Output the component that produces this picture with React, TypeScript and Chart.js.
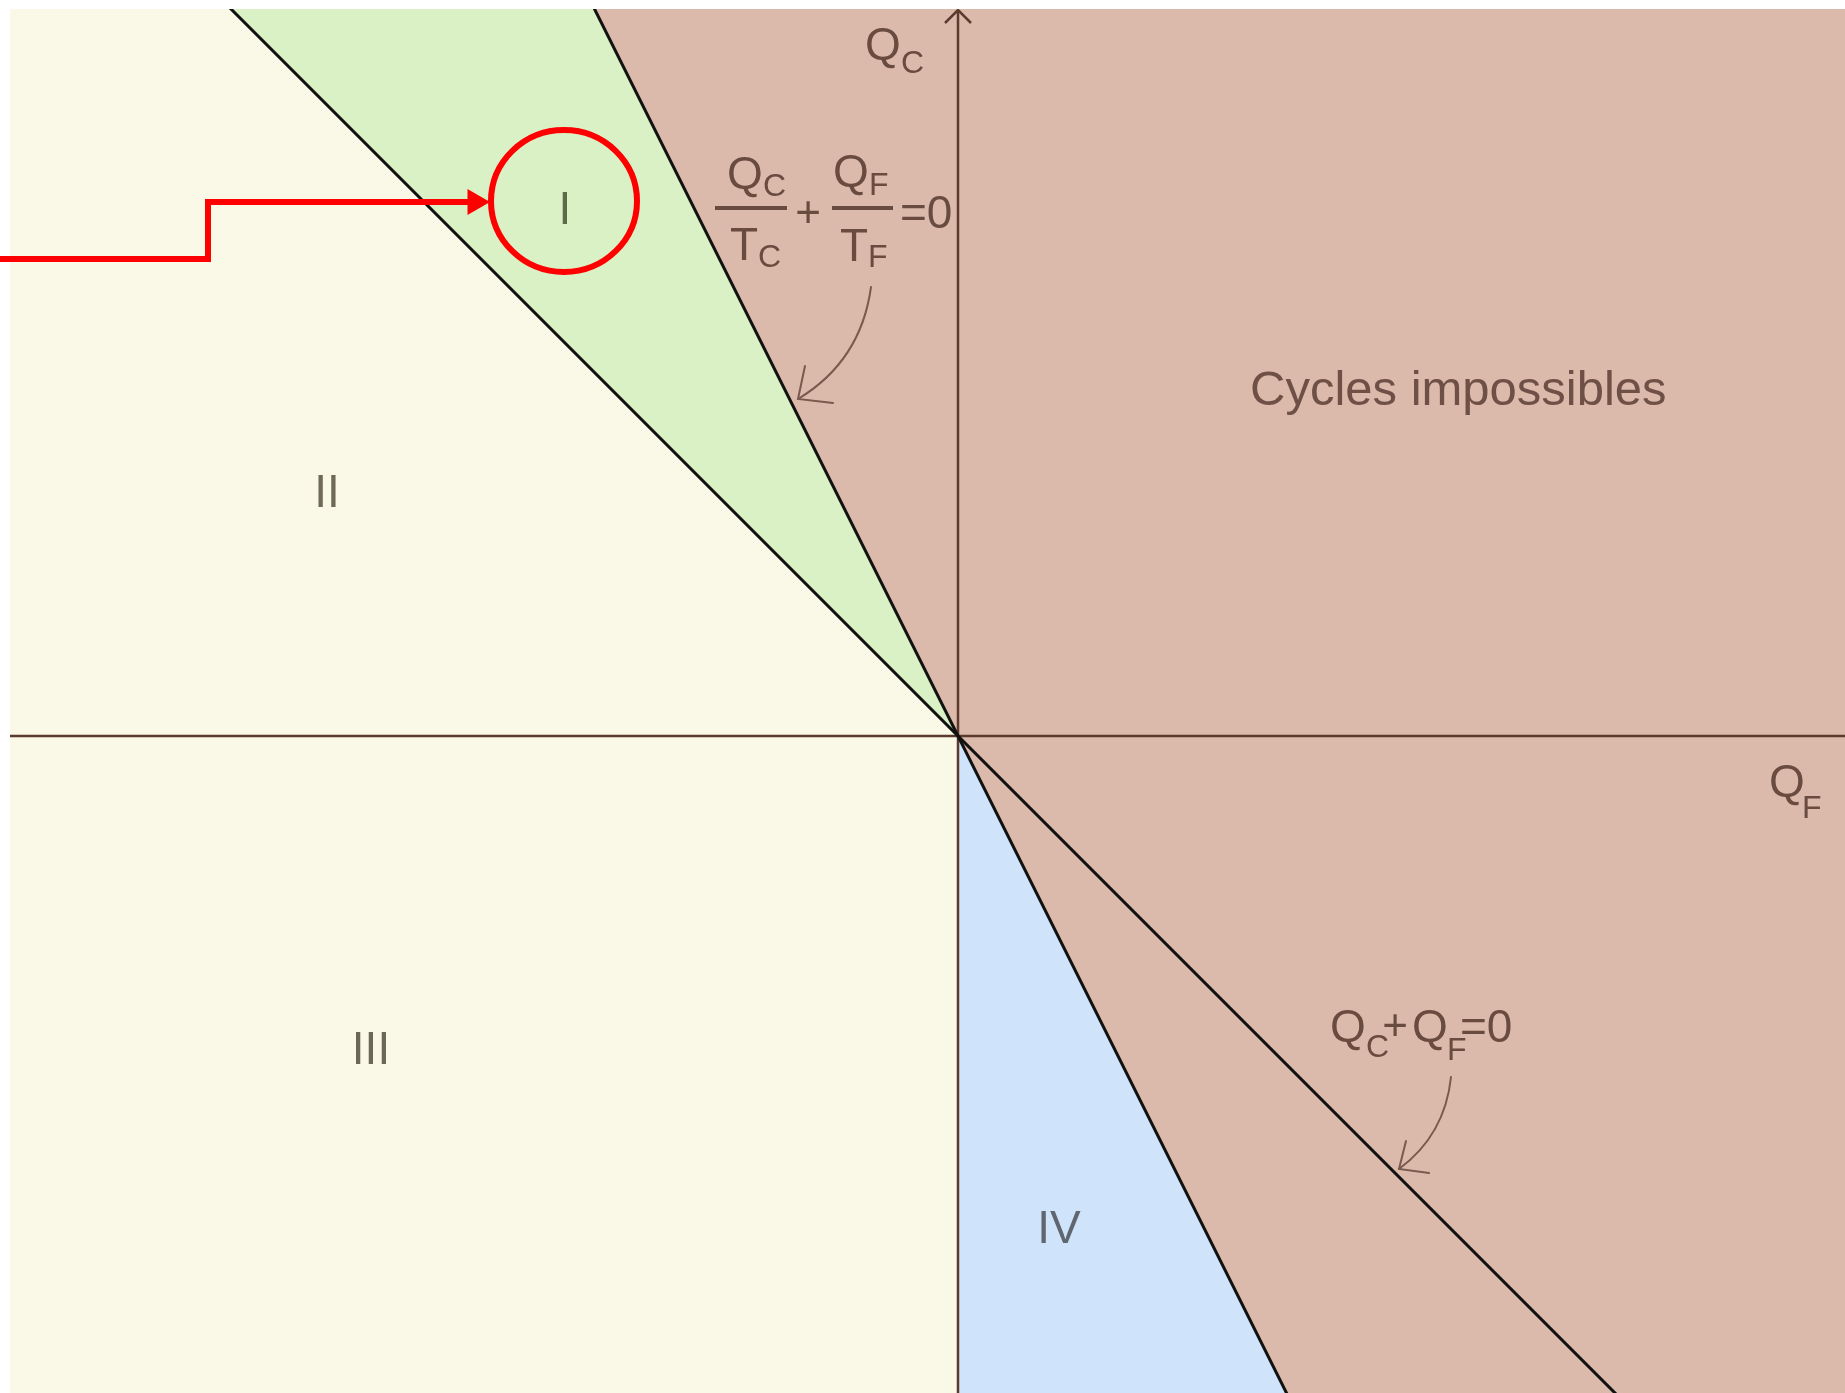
import React, { useEffect, useRef } from "react";
import { Chart, registerables } from "chart.js";

Chart.register(...registerables);

// ---- Axis ranges (Q_F horizontal, Q_C vertical) ----
const QF_RANGE = [-9.48, 8.87];
const QC_RANGE = [-6.57, 7.27];

// ---- Regions of the (Q_F, Q_C) plane (polygons, closed) ----
const REGION_II = [[0, 0], [-20, 20], [-20, 0]];
const REGION_III = [[0, 0], [-20, 0], [-20, -20], [0, -20]];
const REGION_I = [[0, 0], [-10, 20], [-20, 20]];
const REGION_IV = [[0, 0], [0, -20], [10, -20]];
const REGION_IMPOSSIBLE = [[0, 0], [-10, 20], [20, 20], [20, -20], [10, -20]];

// ---- Boundary lines ----
const LINE_CLAUSIUS = [[-10, 20], [10, -20]]; // Qc/Tc + Qf/Tf = 0 (Tc/Tf = 2)
const LINE_ENERGY = [[-20, 20], [20, -20]]; // Qc + Qf = 0

// ---- Axes ----
const AXIS_QF = [[-20, 0], [20, 0]];
const AXIS_QC = [[0, -20], [0, 7.26]];
const AXIS_QC_ARROW = [[-0.13, 7.13], [0, 7.26], [0.13, 7.13]];

// ---- Red highlight pointing to region I ----
const HIGHLIGHT_PATH = [[-9.6, 4.77], [-7.5, 4.77], [-7.5, 5.34], [-4.83, 5.34]];
const HIGHLIGHT_RING = { cx: -3.94, cy: 5.35, rx: 0.73, ry: 0.71 };

// ---- Texts ----
const FONT = '"Liberation Sans", Arial, Helvetica, sans-serif';
const LABEL_COLOR = "#6a4b40";
const TEXT_ITEMS = [
  // Q_C axis title
  { text: "Q", x: -0.93, y: 6.76, size: 46, color: LABEL_COLOR },
  { text: "C", x: -0.57, y: 6.63, size: 32, color: LABEL_COLOR },
  // Q_F axis title
  { text: "Q", x: 8.11, y: -0.61, size: 46, color: LABEL_COLOR },
  { text: "F", x: 8.44, y: -0.82, size: 32, color: LABEL_COLOR },
  // Qc/Tc + Qf/Tf = 0
  { text: "Q", x: -2.31, y: 5.47, size: 46, color: LABEL_COLOR },
  { text: "C", x: -1.95, y: 5.4, size: 32, color: LABEL_COLOR },
  { text: "Q", x: -1.25, y: 5.49, size: 46, color: LABEL_COLOR },
  { text: "F", x: -0.89, y: 5.41, size: 32, color: LABEL_COLOR },
  { text: "T", x: -2.28, y: 4.76, size: 46, color: LABEL_COLOR },
  { text: "C", x: -2.0, y: 4.69, size: 32, color: LABEL_COLOR },
  { text: "T", x: -1.18, y: 4.75, size: 46, color: LABEL_COLOR },
  { text: "F", x: -0.9, y: 4.69, size: 32, color: LABEL_COLOR },
  { text: "+", x: -1.5, y: 5.09, size: 44, color: LABEL_COLOR, align: "center" },
  { text: "=0", x: -0.58, y: 5.08, size: 46, color: LABEL_COLOR },
  // Qc + Qf = 0
  { text: "Q", x: 3.72, y: -3.06, size: 46, color: LABEL_COLOR },
  { text: "C", x: 4.08, y: -3.21, size: 32, color: LABEL_COLOR },
  { text: "+", x: 4.37, y: -3.04, size: 44, color: LABEL_COLOR, align: "center" },
  { text: "Q", x: 4.54, y: -3.06, size: 46, color: LABEL_COLOR },
  { text: "F", x: 4.89, y: -3.24, size: 32, color: LABEL_COLOR },
  { text: "=0", x: 5.02, y: -3.06, size: 46, color: LABEL_COLOR },
  // Region names
  { text: "Cycles impossibles", x: 2.92, y: 3.31, size: 49, color: "#6e5046" },
  { text: "I", x: -3.93, y: 5.12, size: 46, color: "#5d6a47", align: "center" },
  { text: "II", x: -6.31, y: 2.29, size: 46, color: "#6f6a58", align: "center" },
  { text: "III", x: -5.87, y: -3.28, size: 46, color: "#6b6858", align: "center" },
  { text: "IV", x: 1.01, y: -5.07, size: 46, color: "#5f6670", align: "center" },
];
const FRACTION_BARS = [
  { x0: -2.43, x1: -1.71, y: 5.28 },
  { x0: -1.26, x1: -0.65, y: 5.28 },
];
const CURVED_ARROWS = [
  { start: [-0.87, 4.49], ctrl: [-0.97, 3.75], tip: [-1.6, 3.37], wingA: [-1.53, 3.7], wingB: [-1.25, 3.33] },
  { start: [4.93, -3.41], ctrl: [4.87, -3.99], tip: [4.41, -4.33], wingA: [4.48, -4.05], wingB: [4.71, -4.37] },
];

const toXY = (pts: number[][]) => pts.map(([x, y]) => ({ x, y }));

const region = (label: string, pts: number[][], color: string) => ({
  label,
  data: toXY(pts),
  showLine: true,
  fill: "shape",
  backgroundColor: color,
  borderColor: color,
  borderWidth: 0,
  pointRadius: 0,
  order: 10,
});

const stroke = (label: string, pts: number[][], color: string, width: number, order: number) => ({
  label,
  data: toXY(pts),
  showLine: true,
  fill: false,
  borderColor: color,
  borderWidth: width,
  borderCapStyle: "butt",
  borderJoinStyle: "miter",
  pointRadius: 0,
  order,
});

const annotationPlugin = {
  id: "diagramAnnotations",
  afterDatasetsDraw(chart: any) {
    const ctx = chart.ctx as CanvasRenderingContext2D;
    const xs = chart.scales.x;
    const ys = chart.scales.y;
    const px = (v: number) => xs.getPixelForValue(v);
    const py = (v: number) => ys.getPixelForValue(v);
    ctx.save();

    // red ring around region I
    const r = HIGHLIGHT_RING;
    ctx.strokeStyle = "#ff0000";
    ctx.lineWidth = 6;
    ctx.beginPath();
    ctx.ellipse(px(r.cx), py(r.cy), px(r.cx + r.rx) - px(r.cx), py(r.cy) - py(r.cy + r.ry), 0, 0, Math.PI * 2);
    ctx.stroke();

    // fraction bars
    ctx.fillStyle = LABEL_COLOR;
    for (const b of FRACTION_BARS) {
      ctx.fillRect(px(b.x0), py(b.y) - 2, px(b.x1) - px(b.x0), 4);
    }

    // texts
    ctx.textBaseline = "alphabetic";
    for (const t of TEXT_ITEMS as any[]) {
      ctx.font = `${t.size}px ${FONT}`;
      ctx.fillStyle = t.color;
      ctx.textAlign = t.align || "left";
      ctx.fillText(t.text, px(t.x), py(t.y));
    }

    // curved pointer arrows
    ctx.strokeStyle = "#7a5a4e";
    ctx.lineWidth = 2;
    ctx.lineCap = "round";
    for (const a of CURVED_ARROWS) {
      ctx.beginPath();
      ctx.moveTo(px(a.start[0]), py(a.start[1]));
      ctx.quadraticCurveTo(px(a.ctrl[0]), py(a.ctrl[1]), px(a.tip[0]), py(a.tip[1]));
      ctx.stroke();
      ctx.beginPath();
      ctx.moveTo(px(a.wingA[0]), py(a.wingA[1]));
      ctx.lineTo(px(a.tip[0]), py(a.tip[1]));
      ctx.lineTo(px(a.wingB[0]), py(a.wingB[1]));
      ctx.stroke();
    }
    ctx.restore();
  },
};

export default function App() {
  const ref = useRef<HTMLCanvasElement | null>(null);

  useEffect(() => {
    if (!ref.current) return;
    const chart = new Chart(ref.current, {
      type: "scatter",
      data: {
        datasets: [
          {
            label: "highlight",
            data: toXY(HIGHLIGHT_PATH),
            showLine: true,
            fill: false,
            clip: false,
            borderColor: "#ff0000",
            borderWidth: 6,
            borderJoinStyle: "miter",
            borderCapStyle: "butt",
            pointRadius: [0, 0, 0, 15],
            pointStyle: "triangle",
            pointRotation: 90,
            pointBackgroundColor: "#ff0000",
            pointBorderColor: "#ff0000",
            pointBorderWidth: 0,
            order: 0,
          } as any,
          stroke("Qc/Tc+Qf/Tf=0", LINE_CLAUSIUS, "#111111", 3, 3),
          stroke("Qc+Qf=0", LINE_ENERGY, "#111111", 3, 3),
          stroke("axis Qf", AXIS_QF, "#5c3b2e", 2.5, 4),
          stroke("axis Qc", AXIS_QC, "#5c3b2e", 2.5, 4),
          stroke("axis Qc arrow", AXIS_QC_ARROW, "#5c3b2e", 2.5, 4),
          region("I", REGION_I, "#daf1c6"),
          region("IV", REGION_IV, "#cfe4fb"),
          region("impossible", REGION_IMPOSSIBLE, "#dcbaab"),
          region("II", REGION_II, "#faf8e6"),
          region("III", REGION_III, "#faf8e6"),
        ] as any,
      },
      options: {
        animation: false,
        responsive: false,
        devicePixelRatio: 1,
        events: [],
        layout: { autoPadding: false, padding: { left: 10, top: 9, right: 0, bottom: 0 } },
        plugins: {
          legend: { display: false },
          tooltip: { enabled: false },
          title: { display: false },
        },
        scales: {
          x: { type: "linear", min: QF_RANGE[0], max: QF_RANGE[1], display: false },
          y: { type: "linear", min: QC_RANGE[0], max: QC_RANGE[1], display: false },
        },
      } as any,
      plugins: [annotationPlugin],
    });
    return () => chart.destroy();
  }, []);

  return (
    <div style={{ position: "fixed", left: 0, top: 0, width: 1845, height: 1393, background: "#ffffff", overflow: "hidden" }}>
      <canvas ref={ref} width={1845} height={1393} style={{ display: "block", width: 1845, height: 1393 }} />
    </div>
  );
}
